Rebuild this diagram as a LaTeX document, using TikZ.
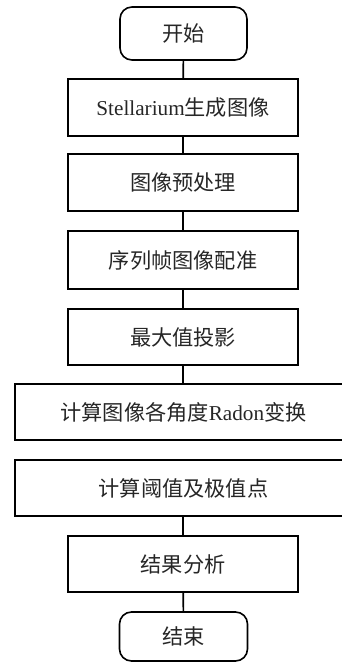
\documentclass[tikz,border=0pt]{standalone}
\usepackage{fontspec}
\setmainfont{Liberation Serif}
\newfontfamily\cjk{Noto Sans CJK SC}
\begin{document}
\begin{tikzpicture}[x=1pt,y=-1pt,
  every node/.style={font=\fontsize{21.2}{25}\selectfont, text=black!85},
  procbox/.style={draw=black, line width=1.6pt, minimum height=#1, inner sep=0pt, anchor=center},
  termbox/.style={draw=black, line width=1.6pt, rounded corners=12pt, inner sep=0pt, anchor=center},
  conn/.style={line width=1.6pt}]
\useasboundingbox (0,0) rectangle (342,663);
\begin{scope}
\clip (0,0) rectangle (342,663);
\node[termbox, minimum width=127pt, minimum height=53pt] (start) at (183.5,33.5) {\cjk 开始};
\node[procbox=57pt, minimum width=230pt] (b1) at (183,107.5) {Stellarium{\cjk 生成图像}};
\node[procbox=57pt, minimum width=230pt] (b2) at (183,182.5) {\cjk 图像预处理};
\node[procbox=58pt, minimum width=230pt] (b3) at (183,260) {\cjk 序列帧图像配准};
\node[procbox=56pt, minimum width=230pt] (b4) at (183,337) {\cjk 最大值投影};
\node[procbox=56pt, minimum width=337pt] (b5) at (183.5,412) {{\cjk 计算图像各角度}Radon{\cjk 变换}};
\node[procbox=56pt, minimum width=337pt] (b6) at (183.5,488) {\cjk 计算阈值及极值点};
\node[procbox=56pt, minimum width=230pt] (b7) at (183,564) {\cjk 结果分析};
\node[termbox, minimum width=128pt, minimum height=49pt] (end) at (183.5,636.5) {\cjk 结束};
\draw[conn] (start) -- (b1);
\draw[conn] (b1) -- (b2);
\draw[conn] (b2) -- (b3);
\draw[conn] (b3) -- (b4);
\draw[conn] (b4.south) -- (b4.south |- b5.north);
\draw[conn] (b5.south -| b7.north) -- (b5.south -| b7.north |- b6.north);
\draw[conn] (b6.south -| b7.north) -- (b7.north);
\draw[conn] (b7) -- (end);
\end{scope}
\end{tikzpicture}
\end{document}
